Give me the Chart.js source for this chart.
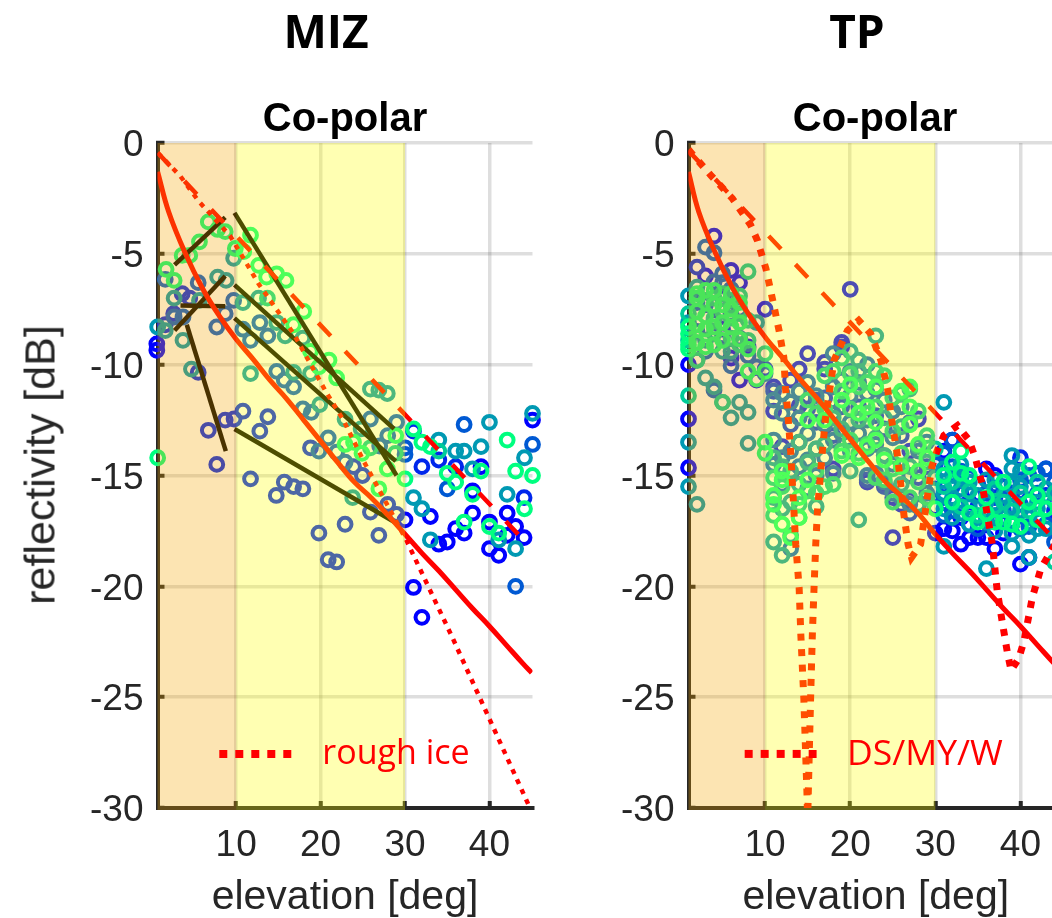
<!DOCTYPE html>
<html>
<head>
<meta charset="utf-8">
<title>MIZ / TP reflectivity</title>
<script src="https://cdn.jsdelivr.net/npm/chart.js@4"></script>
<style>
  html, body { margin: 0; padding: 0; background: #fff; overflow: hidden; width: 1052px; height: 918px; }
  canvas { position: absolute; top: 0; }
  #mizChart { left: 0; }
  #tpChart { left: 540px; }
  .lbl { position: absolute; white-space: nowrap; transform: translate(-50%, -50%); }
  .head { font: bold 46px "Open Sans", sans-serif; color: #000; top: 30px; }
  .sub { font: bold 40px "Liberation Sans", sans-serif; color: #000; top: 117px; }
  .leg { font: 34px "Open Sans", sans-serif; color: #f00; top: 751px; }
  #yTitle { font: 43px "Liberation Sans", sans-serif; color: #262626; left: 40px; top: 465px; transform: translate(-50%, -50%) rotate(-90deg); }
</style>
</head>
<body>
<canvas id="mizChart" width="560" height="918"></canvas>
<canvas id="tpChart" width="540" height="918"></canvas>
<div class="lbl head" style="left:326px">MIZ</div>
<div class="lbl head" style="left:857px">TP</div>
<div class="lbl sub" style="left:345px">Co-polar</div>
<div class="lbl sub" style="left:875px">Co-polar</div>
<div class="lbl leg" style="left:396px">rough ice</div>
<div class="lbl leg" style="left:925px;font-size:35.5px">DS/MY/W</div>
<div class="lbl" id="yTitle"></div>
<script>
const xTicks = [10, 20, 30, 40];
const yTicks = [0, -5, -10, -15, -20, -25, -30];
const xLabel = 'elevation [deg]';
const yLabel = 'reflectivity [dB]';
const colourSteps = [0, 0.15, 0.35, 0.6, 0.8, 1];

// MIZ markers, [elevation, dB], one list per colour step
const mizT0 = [[0.6,-9.06],[0.6,-9.35],[31,-20.05],[32,-21.4],[33,-16.85],[34,-18.1],[35,-18],[36,-17.4],[37,-17.6],[38,-16.7],[38,-15.7],[39,-14.6],[40,-18.3],[40,-17.1],[41.1,-18.6],[42.1,-16.7],[42.1,-17.7],[43.1,-17.3],[44.1,-17.8],[45.1,-12.5],[30,-17]];
const mizT15 = [[3.6,-6.8],[4.5,-7],[2.6,-7.7],[1.6,-8.2],[5.5,-10.35],[6.7,-12.96],[8.7,-12.5],[9.75,-12.45],[10.8,-12.1],[13.75,-12.35],[12.8,-13],[7.7,-14.5],[11.7,-15.15],[15.7,-15.3],[16.8,-15.5],[17.9,-15.6],[14.75,-15.9],[18.8,-13.75],[19.8,-17.6],[22.9,-17.2],[20.9,-18.8],[21.9,-18.9],[26.9,-17.7],[25.9,-16.65],[27.95,-16.3],[29,-16.76],[23.9,-14.6],[24.95,-15],[31,-13],[34,-14.3],[32,-14.6],[36,-14.6],[44.1,-16]];
const mizT35 = [[1.6,-6.15],[5.5,-6.3],[9.7,-7.1],[7.7,-8.3],[8.7,-7.7],[10.8,-8.4],[12.8,-8.1],[13.75,-8.7],[11.7,-8.9],[14.8,-10.3],[15.7,-10.7],[16.8,-11],[17.9,-12],[18.9,-12.15],[2.65,-7.85],[3.7,-7.85],[25.9,-12.45],[29,-12.6],[19.8,-13.9],[20.9,-13.3],[21.9,-13.95],[27.95,-13.2],[27,-13.67],[30,-13.75],[30,-14.05],[22.9,-14.4],[37,-12.7],[45.1,-13.6],[35,-15.6],[43.1,-20]];
const mizT60 = [[0.7,-8.3],[9.7,-5.2],[2.65,-7],[1.6,-8.46],[3.7,-8.9],[4.7,-10.2],[5.65,-7.1],[7.8,-6.05],[8.8,-6.2],[10.8,-7.2],[12.65,-7],[14.8,-8.1],[15.8,-8.7],[17.9,-8.8],[16.8,-10.35],[11.7,-10.4],[18.8,-10.4],[25.9,-11.1],[26.9,-11.15],[27.9,-11.3],[19.9,-11.8],[22.9,-12.46],[24.8,-12.9],[23.8,-16],[34,-13.4],[36,-13.9],[37,-13.9],[39,-13.7],[38,-14.7],[40,-12.6],[45.1,-12.2],[44.15,-14.2],[42.1,-15.85],[31,-16],[32,-16.5],[33,-17.9],[41.1,-17.9],[43.1,-18.3]];
const mizT80 = [[13.7,-7],[25.9,-13.75],[28.85,-14],[34,-13.9]];
const mizT100 = [[0.7,-14.2],[6.7,-3.56],[7.8,-3.9],[8.7,-4],[5.65,-4.46],[4.5,-5.07],[3.6,-5.07],[11.7,-4.16],[9.9,-4.76],[10.9,-4.9],[12.65,-5.52],[13.6,-6.05],[14.8,-5.9],[15.9,-6.2],[1.7,-5.7],[2.65,-6.2],[18,-7.6],[16.8,-8.2],[18.8,-9.4],[19.8,-10.1],[21,-9.8],[21.9,-10.6],[22.9,-13.6],[23.9,-13.5],[24.9,-14],[28.9,-13.2],[30,-15.15],[27.9,-14.7],[26.9,-15.6],[31,-12.9],[32,-13.5],[33,-13.7],[35,-14.9],[36,-15.3],[38,-15.85],[39,-14.8],[37,-17.1],[40,-17.3],[41.1,-17.6],[42.1,-13.4],[43.1,-14.8],[45.1,-15],[44.15,-16.5]];

// MIZ fit lines
const mizStroke1 = [[2.7,-5.5],[8.7,-3.36]];
const mizStroke2 = [[2.7,-8.46],[8.7,-6]];
const mizStroke3 = [[3.4,-7.33],[8.7,-7.36]];
const mizStroke4 = [[4.15,-8.2],[8.77,-13.9]];
const mizStroke5 = [[9.8,-3.15],[29,-15]];
const mizStroke6 = [[9.8,-6.4],[28.7,-12.9]];
const mizStroke7 = [[9.8,-7.9],[28.9,-14.35]];
const mizStroke8 = [[9.8,-12.9],[29.2,-17.2]];
const mizSolid = [[0.7,-1.3],[2,-3.1],[4,-5],[6,-6.55],[8,-7.8],[10,-8.85],[12,-9.75],[14,-10.7],[16,-11.55],[18,-12.5],[20,-13.45],[22,-14.4],[24,-15.3],[26,-16],[28,-16.8],[30,-17.65],[32,-18.5],[34,-19.3],[36,-20.15],[38,-21],[40,-21.8],[42,-22.65],[44,-23.5],[45,-23.9]];
const mizDashed = [[0.7,-0.44],[45,-18.3]];
const mizDotted = [[0.7,-0.44],[3.4,-1.5],[5.5,-2.6],[9.3,-4.2],[12.65,-6.35],[16.8,-8.6],[20.75,-11.3],[22.7,-12.5],[25.1,-14.35],[30.2,-17.95],[35.6,-22.3],[44.8,-30]];
const mizLegendLine = [[8,-27.56],[16.55,-27.56]];

// TP markers
const tpT0 = [[4,-4.2],[3,-6],[7,-6.3],[6,-5.75],[10,-7.5],[8,-9.2],[7,-10.7],[1,-10],[1,-12.45],[1,-14.65],[5,-7],[5,-8.4],[4,-8],[6,-9.7],[9,-10.7],[15,-9.5],[19,-9],[19,-9.2],[20,-6.6],[17,-9.9],[17,-10.2],[14,-10.2],[13,-10.7],[11,-11],[11,-12.1],[12,-13.7],[14,-11.85],[18,-14.7],[22,-15.3],[24,-15.4],[25,-16],[26,-16.3],[27,-16.1],[25,-17.8],[28,-12.45],[27,-13.9],[30,-16.45],[31,-17.4],[30,-17.6],[33,-18.1],[34,-17.8],[35,-17.8],[36,-17.8],[37,-18.3],[40,-19],[41,-18.7],[32,-13.4],[31,-13.9],[36,-14.7],[37,-15],[43,-14.7],[38,-17.6],[39,-17.2],[32,-17.5],[33,-16.9]];
const tpT15 = [[2,-5.6],[6,-6.8],[13,-12.7],[15,-12],[16,-12.6],[14,-13.5],[17,-11.5],[19,-11.9],[21,-11.9],[23,-12.3],[24,-12.9],[26,-13.2],[29,-14.6],[28,-15.1],[31,-15],[33,-15.8],[35,-16.4],[37,-16],[40,-14.2],[41,-16.1],[43,-15.9],[44,-16.6],[34,-16.2],[22,-15.2],[24,-15.5],[27,-16.7],[10,-10.2],[11,-11.2],[16,-11.6],[18,-13.2]];
const tpT35 = [[3,-4.7],[4,-4.95],[5,-5.9],[4,-6.27],[5,-6.3],[6,-6.6],[2,-7.2],[3,-7.3],[6,-7.7],[7,-7.5],[4,-8.1],[2,-8.5],[5,-8.7],[7,-8.8],[6,-10.05],[3,-9.4],[8,-9.6],[9,-10.1],[10,-10.4],[4,-11.15],[11,-11.6],[11,-13.4],[11,-14.5],[12,-11.3],[12,-12.2],[12,-14.2],[12,-15.4],[13,-11.7],[13,-13.9],[13,-15],[13,-18.3],[14,-11.2],[14,-12.4],[14,-14.6],[15,-10.8],[15,-13.1],[15,-14.3],[15,-15.6],[16,-11.4],[16,-13.8],[16,-15],[17,-12.7],[17,-14.2],[18,-9.5],[18,-11],[18,-12.2],[18,-13.4],[18,-14.9],[19,-10.7],[19,-13.1],[20,-10.3],[20,-11.4],[20,-12.6],[20,-13.9],[21,-10.8],[21,-13.1],[22,-10],[22,-11.3],[22,-12.5],[22,-13.8],[22,-15],[23,-11.1],[23,-13.6],[23,-14.9],[24,-11.6],[24,-14.1],[24,-15.3],[25,-12.1],[25,-13.3],[25,-14.5],[25,-15.8],[26,-11.9],[26,-14.6],[26,-16],[27,-12.6],[27,-15],[27,-16.3],[28,-13.9],[28,-16.4],[29,-13.5],[29,-15.8],[30,-14.5],[30,-15.6],[31,-14],[31,-16],[31,-16.8],[32,-13.4],[32,-14.6],[32,-15.5],[32,-16.6],[33,-14.8],[34,-15.1],[34,-17.2],[35,-15.4],[35,-17.4],[36,-15.8],[36,-16.9],[37,-17.1],[38,-15.5],[38,-16.6],[39,-15.8],[39,-17.1],[40,-15.2],[40,-16.3],[40,-17.4],[41,-15],[41,-17.3],[42,-14.9],[42,-15.8],[42,-17],[43,-14.7],[43,-17.2],[44,-15.3],[44,-18]];
const tpT60 = [[1,-6.9],[1,-13.5],[1,-15.5],[2,-16.3],[5,-11.7],[7,-11.7],[6,-12.4],[8,-13.55],[8,-12.15],[3,-10.6],[4,-11],[9,-8.1],[11,-18],[12,-18.6],[13,-17.7],[16,-16.4],[23,-8.7],[20,-9.4],[21,-9.8],[21,-10.3],[20,-14.8],[21,-17],[28,-16.3],[31,-11.7],[31,-18.2],[39,-14.1],[39,-14.7],[39,-18.2],[41,-18.7],[36,-19.2],[33,-15.2],[37,-15.7],[40,-14.8],[42,-16.2],[1,-8.1],[2,-6.5],[2,-9.8],[3,-8.9],[5,-9.4],[6,-9.4],[11,-14.2],[11,-16],[12,-14.6],[12,-16.5],[13,-14.8],[13,-16.2],[14,-13.5],[14,-15.4],[15,-14.4],[16,-13.8],[17,-13.6],[18,-12.4],[19,-12.9],[21,-12.5],[23,-13.3],[24,-12.4],[24,-14.1],[26,-12.8],[26,-15.4],[27,-11.1],[27,-14.6],[28,-13.7],[29,-14.4],[30,-15.1],[31,-14.7],[31,-15.8],[31,-16.5],[32,-15],[32,-16],[32,-16.9],[33,-14.5],[33,-15.6],[33,-16.7],[34,-15.3],[34,-16.4],[34,-17.2],[35,-15.9],[35,-16.9],[36,-15.2],[36,-16.2],[36,-17.1],[37,-15.2],[37,-16.8],[37,-17.5],[38,-15.9],[38,-16.9],[39,-15.4],[39,-16.4],[39,-17.6],[40,-15.5],[40,-16.6],[41,-16.9],[41,-17.7],[42,-16.5],[42,-17.4],[43,-15.6],[43,-17.4],[44,-16.2]];
const tpT80 = [[8,-5.8],[5,-11.7],[1,-11.4],[2,-9.8],[1,-7.7],[1,-8.9],[3,-7.1],[4,-7],[4,-7.9],[4,-8.6],[5,-6.8],[5,-7.6],[6,-7.1],[6,-7.9],[6,-8.8],[7,-6.9],[7,-7.7],[7,-9.1],[8,-8],[8,-8.9],[10,-9.5],[11,-15.1],[11,-16.8],[12,-15.5],[14,-16.3],[15,-11.6],[15,-15.7],[16,-12.2],[16,-14.8],[16,-15.8],[17,-10.5],[17,-12],[17,-15.5],[18,-10.3],[18,-15.4],[19,-9.7],[19,-11.2],[19,-13.9],[20,-10.4],[20,-12],[20,-13.4],[21,-11],[21,-14],[22,-10.8],[22,-12.2],[22,-13.6],[23,-10.3],[23,-11.9],[23,-15.1],[24,-10.5],[24,-15.2],[25,-11.5],[25,-13],[25,-14.7],[25,-16.2],[26,-11.3],[26,-14],[27,-12.7],[27,-16],[28,-12.1],[28,-15.3],[29,-13.2],[29,-16],[30,-13.8],[31,-15.5],[32,-15.3],[33,-16.4],[34,-15.7],[35,-16.8],[37,-15.6],[37,-16.4],[38,-16.2],[39,-16.6],[40,-15.8],[41,-16.2],[41,-16.6],[42,-15.3],[43,-16.5],[44,-15.8],[44,-18.9]];
const tpT100 = [[2,-6.8],[3,-6.65],[4,-6.65],[4,-7.3],[6,-6.8],[6,-7.5],[7,-8.1],[5,-8.1],[3,-9.2],[4,-9.1],[5,-8.9],[7,-8.85],[8,-9.3],[2,-8.2],[1,-9.1],[1,-8.3],[2,-7.6],[4,-8.3],[6,-8.3],[8,-10.3],[10,-10.3],[9,-10.65],[1,-8.6],[1,-9.3],[2,-7],[2,-9],[3,-7.8],[3,-8.4],[5,-7.3],[7,-7.2],[10,-13.5],[10,-14],[12,-17.2],[13,-17.8],[14,-16.9],[14,-16],[11,-15.9],[11,-16.3],[12,-15.2],[12,-14.8],[15,-15.2],[15,-12.5],[17,-12.5],[19,-14.1],[19,-11.6],[21,-12.2],[23,-12.6],[23,-13.4],[22,-13.7],[22,-11.9],[21,-14.2],[24,-14.3],[23,-11],[20,-10.9],[26,-11.2],[27,-11],[27,-11.9],[27,-12.7],[28,-13.6],[29,-14.2],[28,-14.8],[26,-14.6],[14,-16.9],[33,-13.9],[31,-15],[32,-16.2],[30,-16.5],[37,-17.1],[39,-17.2],[41,-14.6],[42,-15.9],[42,-17],[43,-16.5],[38,-17.1],[36,-16],[33,-14.9],[34,-16.7],[35,-17.1],[41,-16.2],[40,-17.3],[32,-14.4],[34,-15],[36,-16.7],[38,-15.3]];

// TP curves
const tpSolid = [[1,-1.3],[2.2,-3.1],[4.2,-5],[6.2,-6.55],[8.2,-7.8],[10.2,-8.85],[12.2,-9.75],[14.2,-10.7],[16.2,-11.55],[18.2,-12.5],[20.2,-13.45],[22.2,-14.4],[24.2,-15.3],[26.2,-16],[28.2,-16.8],[30,-17.65],[32,-18.5],[34,-19.3],[36,-20.15],[38,-21],[40,-21.8],[42,-22.65],[44,-23.5],[45,-23.9]];
const tpDashed = [[1,-0.35],[45,-18.3]];
const tpDotted = [[1,-0.3],[3.6,-1.45],[6.15,-2.5],[8.3,-3.7],[9.1,-4.4],[10.1,-5.67],[10.9,-7.1],[11.64,-8.46],[12.2,-9.67],[12.4,-11.1],[12.6,-11.85],[13,-13.9],[13.3,-16],[13.6,-18.1],[14,-20.07],[14.2,-22.2],[14.55,-25.05],[14.95,-29.7],[15,-31],[15.05,-29.7],[15.35,-25],[15.55,-22.2],[15.75,-20.07],[15.95,-18.1],[16.15,-16.6],[16.73,-13.9],[17.1,-12.4],[17.6,-11.1],[18.1,-9.8],[19.67,-8.46],[21,-8],[22.4,-8.6],[23.6,-9.8],[24.4,-11.1],[24.95,-12.7],[25.5,-13.96],[25.9,-15.25],[26.3,-16.75],[26.8,-18.1],[27.2,-18.7],[28.27,-18.1],[29.05,-16],[29.6,-14.6],[30.2,-13.9],[31,-13.2],[32.6,-12.75],[33.95,-13.4],[34.7,-14.2],[35.5,-15.4],[36.1,-16.75],[36.7,-18.1],[37.27,-20.2],[37.86,-21.6],[38.45,-22.95],[38.9,-23.8],[39.8,-23.25],[40.4,-22.5],[41,-21.3],[41.4,-20.5],[42.4,-19.2],[43.3,-18.6],[45,-17.5]];
const tpLegendLine = [[7.6,-27.56],[16.05,-27.56]];

document.getElementById('yTitle').textContent = yLabel;

function winter(t) {
    return 'rgb(0,' + Math.round(255 * t) + ',' + Math.round(255 - 127 * t) + ')';
}

function toPoints(list) {
    return list.map(p => ({ x: p[0], y: p[1] }));
}

function markerSet(list, t, i) {
    return { data: toPoints(list), showLine: false, pointStyle: 'circle', pointRadius: 6.4, pointBorderWidth: 4,
        pointBorderColor: winter(t), pointBackgroundColor: 'transparent', clip: false, order: 50 - i };
}

function lineSet(list, colour, width, dash, order, tension) {
    return { data: toPoints(list), showLine: true, pointRadius: 0, borderColor: colour, borderWidth: width,
        borderDash: dash, tension: tension || 0, clip: 0, order: order };
}

// the shading sits over everything except the legend line, as in the figure
const bandPlugin = {
    id: 'bands',
    beforeDatasetDraw(chart, args) {
        if (args.index !== chart.data.datasets.length - 1) return;
        const c = chart.ctx, a = chart.chartArea, x = chart.scales.x;
        c.save();
        c.fillStyle = 'rgba(245,165,0,0.3)';
        c.fillRect(a.left, a.top, x.getPixelForValue(10) - a.left, a.bottom + 2 - a.top);
        c.fillStyle = 'rgba(255,255,0,0.3)';
        c.fillRect(x.getPixelForValue(10), a.top, x.getPixelForValue(30) - x.getPixelForValue(10), a.bottom + 2 - a.top);
        c.restore();
    }
};

function makeChart(id, datasets, xMin, xMax, yAxisWidth, rightPad) {
    const ink = '#262626';
    return new Chart(document.getElementById(id), {
        type: 'scatter',
        data: { datasets: datasets },
        plugins: [bandPlugin],
        options: {
            responsive: false,
            animation: false,
            layout: { padding: { top: 143, right: rightPad, left: 0, bottom: 0 } },
            plugins: { legend: { display: false }, tooltip: { enabled: false } },
            scales: {
                x: {
                    type: 'linear', min: xMin, max: xMax,
                    afterBuildTicks: s => { s.ticks = xTicks.map(v => ({ value: v })); },
                    afterFit: s => { s.height = 110; },
                    border: { color: ink, width: 4 },
                    grid: { color: 'rgba(0,0,0,0.13)', lineWidth: 3.5, tickColor: ink, tickWidth: 4, tickLength: -7 },
                    ticks: { color: ink, padding: 23, font: { family: 'Liberation Sans', size: 37 }, maxRotation: 0, autoSkip: false },
                    title: { display: true, text: xLabel, color: ink, padding: 0, font: { family: 'Liberation Sans', size: 41, lineHeight: 1 } }
                },
                y: {
                    type: 'linear', min: -30, max: 0,
                    afterBuildTicks: s => { s.ticks = yTicks.map(v => ({ value: v })); },
                    afterFit: s => { s.width = yAxisWidth; },
                    border: { color: ink, width: 4 },
                    grid: { color: 'rgba(0,0,0,0.13)', lineWidth: 3.5, tickColor: ink, tickWidth: 4, tickLength: -7 },
                    ticks: { color: ink, padding: 21, labelOffset: 3, font: { family: 'Liberation Sans', size: 37 }, autoSkip: false }
                }
            }
        }
    });
}

const red = '#ff0000';
const legendDash = [8, 8];

const mizMarkers = [mizT0, mizT15, mizT35, mizT60, mizT80, mizT100].map((list, i) => markerSet(list, colourSteps[i], i));
const mizStrokes = [mizStroke1, mizStroke2, mizStroke3, mizStroke4, mizStroke5, mizStroke6, mizStroke7, mizStroke8]
    .map(list => lineSet(list, '#000', 4.5, [], 10));
makeChart('mizChart', [
    ...mizMarkers,
    ...mizStrokes,
    lineSet(mizDotted, red, 4.5, [5, 6], 9),
    lineSet(mizDashed, red, 4.5, [18, 21], 8),
    lineSet(mizSolid, red, 5, [], 7, 0.4),
    lineSet(mizLegendLine, red, 8, legendDash, 0)
], 0.68, 45.1, 157.5, 27.5);

const tpMarkers = [tpT0, tpT15, tpT35, tpT60, tpT80, tpT100].map((list, i) => markerSet(list, colourSteps[i], i));
makeChart('tpChart', [
    ...tpMarkers,
    lineSet(tpDashed, red, 4.5, [18, 21], 9),
    lineSet(tpSolid, red, 5, [], 8, 0.4),
    lineSet(tpDotted, red, 7, [7, 8.5], 7),
    lineSet(tpLegendLine, red, 8, legendDash, 0)
], 1, 45, 148.5, 17);
</script>
</body>
</html>
